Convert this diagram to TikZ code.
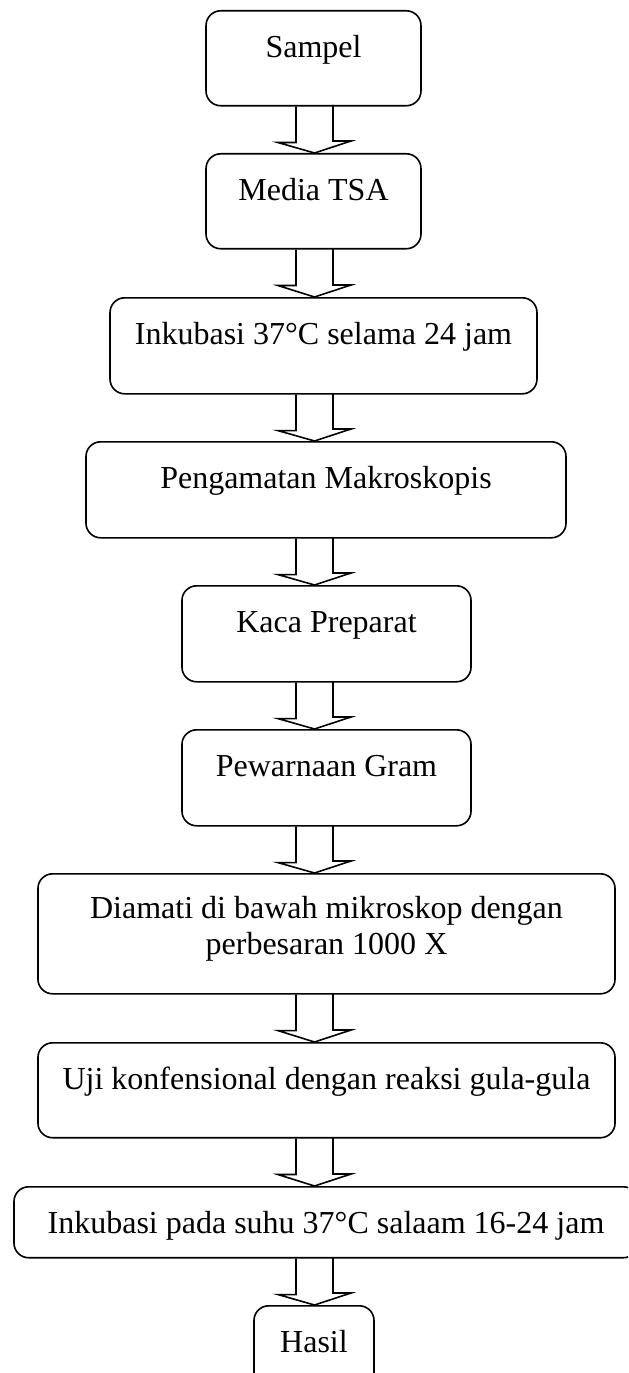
\documentclass[tikz,border=0pt]{standalone}
\usepackage{fontspec}
\setmainfont{Liberation Serif}
\usetikzlibrary{positioning}

% panah blok berongga dari kotak #1 ke kotak #2
\newcommand{\panah}[2]{%
  \draw[panah] (#1.south -| sumbu) ++(-18.5,0) -- ++(0,36) -- ++(-18,0)
    -- (#2.north -| sumbu) -- ++(36.5,-12) -- ++(-18,0) -- ++(0,-36);}

\begin{document}
\begin{tikzpicture}[x=0.375pt, y=-0.375pt, line width=0.6pt,
	every node/.style={font=\fontsize{12}{13.5}\selectfont},
	kotak/.style={draw, rounded corners=5.5pt, inner sep=0pt, anchor=north,
		align=center, text height=17.4pt, text depth=#1},
	kotak/.default=18.2pt,
	panah/.style={draw, line join=miter}]
	\path[use as bounding box, clip] (0,0) rectangle (628,1373);
	\coordinate (sumbu) at (314.5,0);
	\node[kotak, minimum width=80.6pt]          (sampel) at (313.5,10)   {Sampel};
	\node[kotak, minimum width=80.6pt]          (media)  at (313.5,153)  {Media TSA};
	\node[kotak=18.6pt, minimum width=160.1pt]  (inkub1) at (323.5,297)  {Inkubasi 37°C selama 24 jam};
	\node[kotak=18.6pt, minimum width=180pt]    (makro)  at (326,441)    {Pengamatan Makroskopis};
	\node[kotak=18.6pt, minimum width=108.4pt]  (kaca)   at (326.5,585)  {Kaca Preparat};
	\node[kotak=18.6pt, minimum width=108.4pt]  (gram)   at (326.5,729)  {Pewarnaan Gram};
	\node[kotak=14.6pt, text height=30.4pt, minimum width=216.4pt] (mikro) at (326.5,873)
		{Diamati di bawah mikroskop dengan\\perbesaran 1000 X};
	\node[kotak, minimum width=216.4pt]         (uji)    at (326.5,1042) {Uji konfensional dengan reaksi gula-gula};
	\node[kotak=9.2pt, minimum width=234pt]     (inkub2) at (326,1186)   {Inkubasi pada suhu 37°C salaam 16-24 jam};
	\node[kotak, minimum width=45pt]            (hasil)  at (314,1305)   {Hasil};
	\panah{sampel}{media}
	\panah{media}{inkub1}
	\panah{inkub1}{makro}
	\panah{makro}{kaca}
	\panah{kaca}{gram}
	\panah{gram}{mikro}
	\panah{mikro}{uji}
	\panah{uji}{inkub2}
	\panah{inkub2}{hasil}
\end{tikzpicture}
\end{document}
